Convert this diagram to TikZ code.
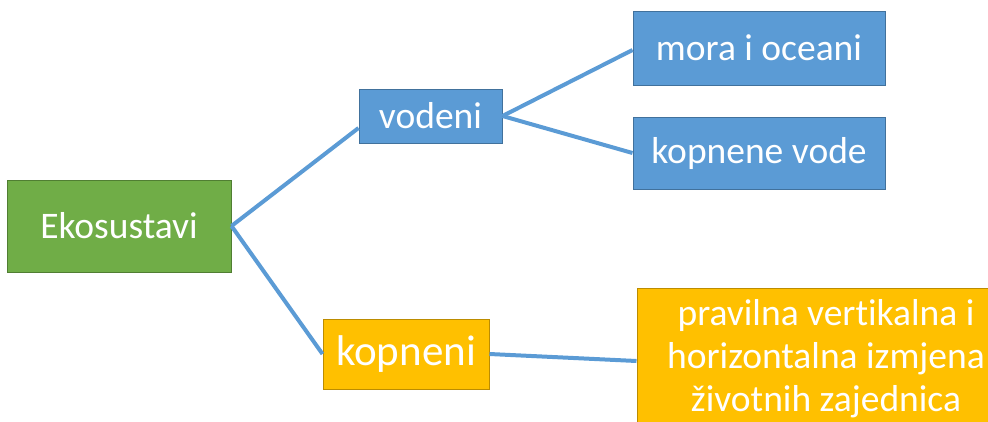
\documentclass[tikz,border=0pt]{standalone}
\usepackage{fontspec}
\setmainfont[Ligatures=NoCommon]{Carlito}
\definecolor{cgreen}{HTML}{70AD47}
\definecolor{cgreenb}{HTML}{507E32}
\definecolor{cblue}{HTML}{5B9BD5}
\definecolor{cblueb}{HTML}{41719C}
\definecolor{corange}{HTML}{FFC000}
\definecolor{corangeb}{HTML}{BC8C00}
\definecolor{cline}{HTML}{5B9BD5}
\begin{document}
\begin{tikzpicture}[x=1pt,y=-1pt,
  box/.style={draw, line width=1pt, text=white, inner sep=0pt, align=center,
    font=\fontsize{37.5}{43}\selectfont},
  gbox/.style={box, fill=cgreen, draw=cgreenb},
  bbox/.style={box, fill=cblue, draw=cblueb},
  obox/.style={box, fill=corange, draw=corangeb},
  link/.style={draw=cline, line width=4pt}]
\clip (0,0) rectangle (988,421);
\useasboundingbox (0,0) rectangle (988,421);
\node[gbox, minimum width=224pt, minimum height=92pt] (eko) at (119,226) {Ekosustavi};
\node[bbox, minimum width=143pt, minimum height=54pt] (vod) at (430.5,116) {vodeni};
\node[bbox, minimum width=252pt, minimum height=74pt] (mor) at (759,48) {mora i oceani};
\node[bbox, minimum width=252pt, minimum height=72pt] (kvo) at (759,153) {kopnene vode};
\node[obox, minimum width=166pt, minimum height=70pt, font=\fontsize{43}{50}\selectfont] (kop) at (406,354) {kopneni};
\node[obox, minimum width=378pt, minimum height=142pt] (pra) at (826,359) {pravilna vertikalna i\\horizontalna izmjena\\životnih zajednica};
\draw[link] (eko.east) -- ([yshift=-12pt]vod.west);
\draw[link] (eko.east) -- (kop.west);
\draw[link] (vod.east) -- ([yshift=-2pt]mor.west);
\draw[link] (vod.east) -- (kvo.west);
\draw[link] (kop.east) -- ([yshift=-2pt]pra.west);
\end{tikzpicture}
\end{document}
